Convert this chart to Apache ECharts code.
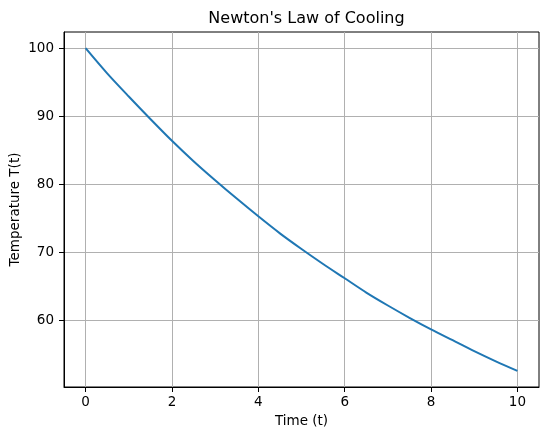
<!DOCTYPE html>
<html>
<head>
<meta charset="utf-8">
<script src="https://cdn.jsdelivr.net/npm/echarts@6/dist/echarts.min.js"></script>
<style>
  html, body { margin: 0; padding: 0; background: #fff; }
  #chart { width: 549px; height: 438px; }
</style>
</head>
<body>
<div id="chart"></div>
<script>
// 数据：时间与温度
var times = [0, 0.5, 1, 1.5, 2, 2.5, 3, 3.5, 4, 4.5, 5, 5.5, 6, 6.5, 7, 7.5, 8, 8.5, 9, 9.5, 10];
var temps = [100, 96.3, 92.9, 89.6, 86.4, 83.4, 80.6, 77.9, 75.3, 72.8, 70.5, 68.3, 66.2, 64.1, 62.2, 60.4, 58.7, 57.1, 55.5, 54.0, 52.6];
var xTicks = [0, 2, 4, 6, 8, 10];
var yTicks = [60, 70, 80, 90, 100];

var points = times.map(function (t, i) { return [t, temps[i]]; });

var font = 'DejaVu Sans';
var myChart = echarts.init(document.getElementById('chart'));
var option = {
    animation: false,
    backgroundColor: '#fff',
    textStyle: { fontFamily: font },
    title: {
        text: "Newton's Law of Cooling",
        left: 301.5,
        textAlign: 'center',
        top: 6,
        textStyle: { fontFamily: font, fontSize: 16, fontWeight: 'normal', color: '#000' }
    },
    grid: {
        left: 64, right: 10, top: 32, bottom: 51,
        outerBoundsMode: 'none',
        containLabel: false,
        show: true, borderColor: '#000', borderWidth: 1, backgroundColor: 'transparent'
    },
    xAxis: {
        type: 'value',
        min: -0.5, max: 10.5,
        name: 'Time (t)',
        nameLocation: 'middle',
        nameGap: 27,
        nameMoveOverlap: false,
        nameTextStyle: { fontFamily: font, fontSize: 13.5, color: '#000' },
        axisLine: { show: true, onZero: false, lineStyle: { color: '#000', width: 1 } },
        axisTick: { show: true, inside: false, length: 5, customValues: xTicks, lineStyle: { color: '#000' } },
        axisLabel: { customValues: xTicks, margin: 8, fontFamily: font, fontSize: 13.5, color: '#000' },
        splitLine: { show: true, lineStyle: { color: '#b0b0b0', width: 1 } }
    },
    yAxis: {
        type: 'value',
        min: 50.23, max: 102.37,
        name: 'Temperature T(t)',
        nameLocation: 'middle',
        nameGap: 42,
        nameMoveOverlap: false,
        nameTextStyle: { fontFamily: font, fontSize: 13.5, color: '#000' },
        axisLine: { show: true, onZero: false, lineStyle: { color: '#000', width: 1 } },
        axisTick: { show: true, inside: false, length: 5, customValues: yTicks, lineStyle: { color: '#000' } },
        axisLabel: { customValues: yTicks, margin: 10, fontFamily: font, fontSize: 13.5, color: '#000' },
        splitLine: { show: true, lineStyle: { color: '#b0b0b0', width: 1 } }
    },
    series: [{
        type: 'line',
        data: points,
        smooth: 0.3,
        showSymbol: false,
        lineStyle: { color: '#1f77b4', width: 2 },
        itemStyle: { color: '#1f77b4' }
    }]
};
myChart.setOption(option);
</script>
</body>
</html>
